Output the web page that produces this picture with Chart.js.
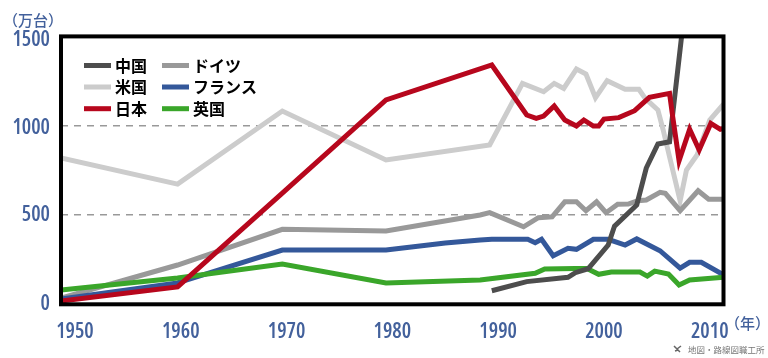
<!DOCTYPE html>
<html><head><meta charset="utf-8">
<style>html,body{margin:0;padding:0;background:#fff}canvas{display:block}</style>
<script src="https://cdn.jsdelivr.net/npm/chart.js@4"></script>
</head><body><canvas id="c" width="768" height="358"></canvas>
<script>
const tickYears=[1950,1960,1970,1980,1990,2000,2010];
const yTicks=[0,500,1000,1500];
const seriesNames=["中国","米国","日本","ドイツ","フランス","英国"];
const chinaYears=[1989.4,1992.7,1996.6,1997.3,1998.5,2000.4,2001.0,2003.1,2004.0,2005.1,2006.2,2007.3,2008.0];
const chinaValues=[76,127,151,177,199,332,438,556,763,898,910,1480,1826];
const usYears=[1948.68,1959.7,1969.6,1979.4,1989.2,1992.3,1994.3,1995.3,1996.2,1997.4,1998.3,1999.2,2000.3,2002.0,2003.3,2003.9,2005.1,2005.6,2006.2,2007.2,2007.8,2008.8,2010.0,2011.3];
const usValues=[819,673,1082,808,892,1237,1190,1237,1209,1317,1289,1157,1252,1204,1204,1153,1088,976,826,580,752,836,1032,1120];
const japanYears=[1948.68,1959.7,1969.6,1979.4,1989.4,1992.7,1993.6,1994.3,1995.3,1996.3,1997.4,1998.1,1999.0,1999.5,2000.0,2001.4,2002.9,2004.3,2006.2,2006.5,2007.1,2008.1,2009.0,2010.1,2011.0,2011.3];
const japanValues=[18,97,623,1144,1340,1060,1041,1054,1110,1032,998,1032,998,998,1037,1045,1084,1159,1181,1050,804,980,864,1013,980,985];
const germanyYears=[1948.68,1959.7,1969.6,1979.4,1988.3,1989.2,1992.4,1993.8,1995.1,1996.3,1997.4,1998.3,1999.3,2000.2,2001.3,2002.3,2003.2,2004.0,2005.3,2005.8,2007.2,2008.9,2009.9,2011.3];
const germanyValues=[35,220,420,410,500,513,434,485,490,574,574,524,574,513,560,561,580,584,627,621,524,636,588,588];
const franceYears=[1948.68,1959.7,1969.6,1979.4,1985.0,1988.3,1989.4,1992.8,1993.5,1994.1,1995.2,1996.6,1997.4,1999.0,2000.4,2002.0,2003.1,2005.3,2007.2,2008.1,2009.2,2011.3];
const franceValues=[30,120,304,304,343,360,364,364,345,364,272,314,308,364,364,332,366,300,202,235,235,165];
const ukYears=[1948.68,1959.7,1969.6,1979.4,1988.3,1993.5,1994.4,1997.3,1998.4,1999.5,2000.7,2003.4,2004.1,2004.8,2006.1,2007.1,2008.1,2011.3];
const ukValues=[80,147,225,119,136,174,198,201,201,168,181,181,158,186,170,108,136,151];
const seriesColors=["#4d4d4d","#cccccc","#b7071d","#999999","#34589a","#3aa62a"];
const pts=(xs,ys)=>xs.map((x,i)=>({x,y:ys[i]}));
const ds=(i,xs,ys)=>({label:seriesNames[i],data:pts(xs,ys),borderColor:seriesColors[i],backgroundColor:seriesColors[i],borderWidth:5,pointRadius:0,tension:0,borderJoinStyle:'miter',borderCapStyle:'butt',fill:false});
const blue="#43619c";
const tickFont={family:'"Open Sans"',size:21,weight:'condensed 600'};
const overlay={id:'overlay',
 beforeDraw(ch){
  const shift={'1500':4,'1000':2};
  for(const it of ch.scales.y.getLabelItems()){
    const d=shift[it.label];
    if(d&&!it._shifted){it.options.translation=[it.options.translation[0],it.options.translation[1]+d];it._shifted=true;}
  }
 },
 afterDatasetsDraw(ch){
  const g=ch.ctx,a=ch.chartArea;
  g.save();
  g.strokeStyle="#000";g.lineWidth=4;g.strokeRect(a.left,a.top,a.right-a.left,a.bottom-a.top);
  const rows=[[0,84,115,65.5],[1,84,115,87],[2,84,115,108.7],[3,162,193,65.5],[4,162,193,87],[5,162,193,108.7]];
  g.textBaseline='middle';g.textAlign='left';
  for(const [i,sx,tx,y] of rows){
    g.fillStyle=seriesColors[i];g.fillRect(sx,y-2.5,27,5);
    g.fillStyle="#000";g.font='bold 16px "Noto Sans CJK JP"';g.fillText(seriesNames[i],tx,y);
  }
  g.fillStyle=blue;g.font='500 15px "Noto Sans CJK JP"';
  g.fillText("（万台）",3,20);
  g.fillText("（年）",725,323);
  g.fillStyle="#777";g.font='8.5px "Noto Sans CJK JP"';
  g.fillText("地図・路線図職工所",688,350);
  g.strokeStyle="#666";g.lineWidth=1.5;
  g.beginPath();g.moveTo(674,346);g.lineTo(677,349);g.lineTo(680,352);g.moveTo(677,349);g.lineTo(681,346);g.moveTo(675,351);g.lineTo(678,350);g.stroke();
  g.restore();
 }};
new Chart(document.getElementById('c'),{type:'line',
 data:{datasets:[ds(2,japanYears,japanValues),ds(0,chinaYears,chinaValues),ds(5,ukYears,ukValues),ds(4,franceYears,franceValues),ds(3,germanyYears,germanyValues),ds(1,usYears,usValues)]},
 options:{responsive:false,animation:false,devicePixelRatio:1,
  layout:{padding:{left:0,right:44.5,top:36.4,bottom:0}},
  plugins:{legend:{display:false},tooltip:{enabled:false},title:{display:false}},
  scales:{
   x:{type:'linear',min:1948.68,max:2011.3,
     afterBuildTicks(s){s.ticks=tickYears.map(v=>({value:v}));},
     afterFit(s){s.height=358-304.3;},
     border:{display:false},grid:{display:false},
     ticks:{autoSkip:false,maxRotation:0,padding:7,color:blue,font:tickFont,callback:v=>String(v)}},
   y:{min:0,max:1500,
     afterBuildTicks(s){s.ticks=yTicks.map(v=>({value:v}));},
     afterFit(s){s.width=61;},
     border:{display:false,dash:[7,6]},
     grid:{drawTicks:false,lineWidth:1.5,color:c=>(c.tick&&(c.tick.value===500||c.tick.value===1000))?'#999999':'rgba(0,0,0,0)'},
     ticks:{padding:11,color:blue,font:tickFont,callback:v=>String(v)}}
  }},
 plugins:[overlay]});
</script></body></html>
